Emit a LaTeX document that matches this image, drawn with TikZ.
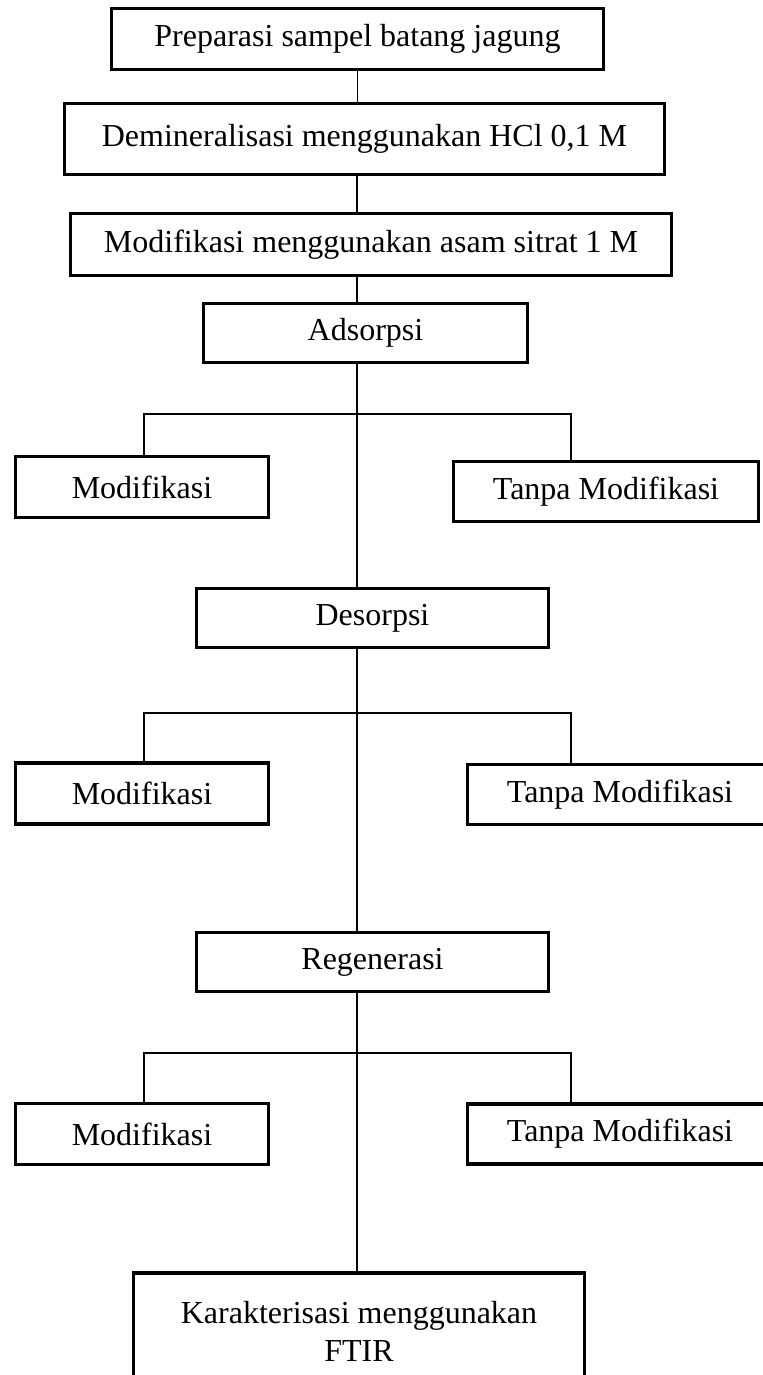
\documentclass[tikz,border=0pt]{standalone}
\usepackage{fontspec}
\setmainfont{Liberation Serif}
\tikzset{tahap/.style={rectangle, draw=black, line width=1.75pt,
  inner sep=0pt, align=center, font=\fontsize{16}{19}\selectfont}}
\tikzset{cabang/.style={tahap, minimum width=126.5pt, minimum height=30.5pt}}
\tikzset{tanpa/.style={tahap, minimum width=152.5pt, minimum height=30pt}}
\tikzset{garis/.style={draw=black, line width=0.9pt}}

\begin{document}
\begin{tikzpicture}[x=0.5pt, y=-0.5pt]
\path[use as bounding box, clip] (0,0) rectangle (763,1375);
\node[tahap, minimum width=246pt, minimum height=30.5pt] (prep) at (357.5,39) {Preparasi sampel batang jagung};
\node[tahap, minimum width=300pt, minimum height=35.5pt] (demin) at (364.5,139) {Demineralisasi menggunakan HCl 0,1 M};
\node[tahap, minimum width=300.5pt, minimum height=31pt] (modif) at (371,244.5) {Modifikasi menggunakan asam sitrat 1 M};
\node[tahap, minimum width=162pt, minimum height=29.5pt] (ads) at (365.5,333) {Adsorpsi};
\node[cabang] (mod1) at (142,487) {Modifikasi};
\node[tanpa] (tanpa1) at (606,491.5) {Tanpa Modifikasi};
\node[tahap, minimum width=176pt, minimum height=29.5pt] (des) at (372.5,618) {Desorpsi};
\node[cabang] (mod2) at (142,793.5) {Modifikasi};
\node[tanpa] (tanpa2) at (620,794.5) {Tanpa Modifikasi};
\node[tahap, minimum width=176pt, minimum height=29.5pt] (reg) at (372.5,962) {Regenerasi};
\node[cabang] (mod3) at (142,1134) {Modifikasi};
\node[tanpa] (tanpa3) at (620,1134) {Tanpa Modifikasi};
\node[tahap, minimum width=225.5pt, minimum height=58pt] (karak) at (359,1331) {Karakterisasi menggunakan\\FTIR};
% garis utama
\coordinate (sumbu) at (357,0);
\draw[garis] (prep.south) -- (demin.north -| prep.south);
\draw[garis] (demin.south -| sumbu) -- (modif.north -| sumbu);
\draw[garis] (modif.south -| sumbu) -- (ads.north -| sumbu);
\draw[garis] (ads.south -| sumbu) -- (des.north -| sumbu);
\draw[garis] (des.south -| sumbu) -- (reg.north -| sumbu);
\draw[garis] (reg.south -| sumbu) -- (karak.north -| sumbu);
% cabang
\foreach \i/\yy in {1/414, 2/713, 3/1053} {
  \coordinate (ki\i) at (144,\yy);
  \coordinate (ka\i) at (571,\yy);
  \draw[garis] (mod\i.north -| ki\i) -- (ki\i) -- (ka\i) -- (tanpa\i.north -| ka\i);
}
\end{tikzpicture}
\end{document}
